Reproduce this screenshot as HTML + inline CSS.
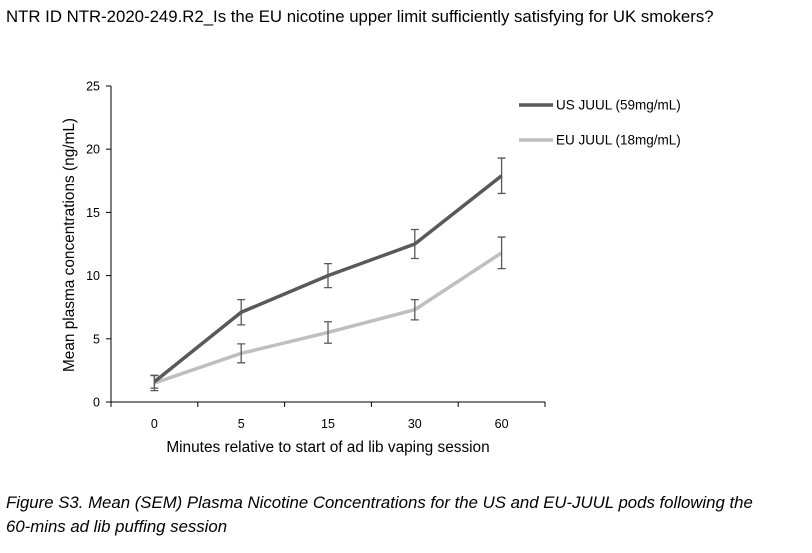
<!DOCTYPE html>
<html><head><meta charset="utf-8"><style>
body{margin:0;background:#fff;width:812px;height:553px;overflow:hidden;font-family:"Liberation Sans",sans-serif;}
</style></head><body>
<div style="position:absolute;left:6px;top:7px;font-size:16.8px;color:#000;white-space:nowrap;">NTR ID NTR-2020-249.R2_Is the EU nicotine upper limit sufficiently satisfying for UK smokers?</div>
<svg width="812" height="553" style="position:absolute;left:0;top:0" id="chart"></svg>
<div style="position:absolute;left:6px;top:491px;font-size:16.8px;font-style:italic;line-height:24px;white-space:nowrap;">Figure S3. Mean (SEM) Plasma Nicotine Concentrations for the US and EU-JUUL pods following the<br>60-mins ad lib puffing session</div>
<script>
const categories=["0","5","15","30","60"];
const usValues=[1.6,7.1,10.0,12.5,17.9];
const usErr=[0.5,1.0,0.95,1.15,1.4];
const euValues=[1.5,3.85,5.5,7.3,11.8];
const euErr=[0.6,0.75,0.85,0.8,1.25];
const yTicks=[0,5,10,15,20,25];
const seriesNames=["US JUUL (59mg/mL)","EU JUUL (18mg/mL)"];
const svg=document.getElementById('chart');const NS="http://www.w3.org/2000/svg";
const x0=111,x1=545,yb=402,yt=86,yMax=25;
const band=(x1-x0)/categories.length;
const xs=i=>x0+band*(i+0.5);
const ys=v=>yb-(v/yMax)*(yb-yt);
function mk(t,a,txt){const e=document.createElementNS(NS,t);for(const k in a)e.setAttribute(k,a[k]);if(txt!=null)e.textContent=txt;svg.appendChild(e);return e;}
let e=mk('line',{x1:x0,y1:yt,x2:x0,y2:yb,stroke:'#000','stroke-width':1});

e=mk('line',{x1:x0,y1:yb,x2:x1,y2:yb,stroke:'#000','stroke-width':1});

yTicks.forEach(v=>{const y=ys(v);
e=mk('line',{x1:x0-5,y1:y,x2:x0,y2:y,stroke:'#000'});

e=mk('text',{x:x0-11,y:y+4.5,'font-size':12.5,'text-anchor':'end'},String(v));
});
for(let i=0;i<=categories.length;i++){const x=x0+band*i;
e=mk('line',{x1:x,y1:yb,x2:x,y2:yb+5,stroke:'#000'});
}
categories.forEach((c,i)=>{e=mk('text',{x:xs(i),y:yb+26,'font-size':12.5,'text-anchor':'middle'},c);
});
e=mk('text',{x:328,y:452,'font-size':15.4,'text-anchor':'middle'},"Minutes relative to start of ad lib vaping session");

e=mk('text',{x:74,y:245,'font-size':15.4,'text-anchor':'middle',transform:'rotate(-90 74 245)'},"Mean plasma concentrations (ng/mL)");

function series(vals,errs,color,name){
const pts=vals.map((v,i)=>xs(i)+','+ys(v)).join(' ');
let p=mk('polyline',{points:pts,fill:'none',stroke:color,'stroke-width':3.5,'stroke-linejoin':'round'});

vals.forEach((v,i)=>{const x=xs(i),t=ys(v+errs[i]),b=ys(v-errs[i]);
const g=mk('path',{d:`M${x},${t}V${b}M${x-4},${t}H${x+4}M${x-4},${b}H${x+4}`,stroke:'#595959','stroke-width':1.3,fill:'none'});
});}
series(euValues,euErr,'#bfbfbf','eu');
series(usValues,usErr,'#595959','us');
[['#595959',105],['#bfbfbf',140]].forEach((l,i)=>{
e=mk('line',{x1:519,y1:l[1],x2:553,y2:l[1],stroke:l[0],'stroke-width':3.5});

e=mk('text',{x:556,y:l[1]+4.5,'font-size':13.5},seriesNames[i]);
});
</script>
</body></html>
